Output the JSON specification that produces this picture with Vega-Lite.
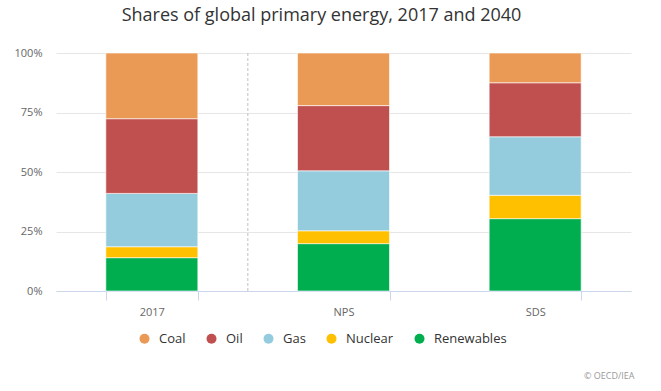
{
  "$schema": "https://vega.github.io/schema/vega-lite/v6.json",
  "autosize": {"type": "none"},
  "width": 575,
  "height": 238,
  "padding": {"left": 56, "top": 53, "right": 30, "bottom": 100},
  "background": "#ffffff",
  "title": {
    "text": "Shares of global primary energy, 2017 and 2040",
    "anchor": "middle",
    "frame": "group",
    "dx": -22,
    "offset": 22,
    "fontSize": 18,
    "font": "Open Sans",
    "fontWeight": "normal",
    "color": "#333333"
  },
  "config": {
    "view": {"stroke": null},
    "font": "Open Sans"
  },
  "layer": [
    {
      "data": {
        "values": [
          {"scenario": "2017", "fuel": "Renewables", "ord": 1, "share": 14.0},
          {"scenario": "2017", "fuel": "Nuclear", "ord": 2, "share": 4.6},
          {"scenario": "2017", "fuel": "Gas", "ord": 3, "share": 22.4},
          {"scenario": "2017", "fuel": "Oil", "ord": 4, "share": 31.4},
          {"scenario": "2017", "fuel": "Coal", "ord": 5, "share": 27.6},
          {"scenario": "NPS", "fuel": "Renewables", "ord": 1, "share": 19.9},
          {"scenario": "NPS", "fuel": "Nuclear", "ord": 2, "share": 5.4},
          {"scenario": "NPS", "fuel": "Gas", "ord": 3, "share": 25.2},
          {"scenario": "NPS", "fuel": "Oil", "ord": 4, "share": 27.4},
          {"scenario": "NPS", "fuel": "Coal", "ord": 5, "share": 22.1},
          {"scenario": "SDS", "fuel": "Renewables", "ord": 1, "share": 30.4},
          {"scenario": "SDS", "fuel": "Nuclear", "ord": 2, "share": 9.8},
          {"scenario": "SDS", "fuel": "Gas", "ord": 3, "share": 24.6},
          {"scenario": "SDS", "fuel": "Oil", "ord": 4, "share": 22.7},
          {"scenario": "SDS", "fuel": "Coal", "ord": 5, "share": 12.5}
        ]
      },
      "mark": {"type": "bar", "stroke": "#ffffff", "strokeWidth": 0.6},
      "encoding": {
        "x": {
          "field": "scenario",
          "type": "nominal",
          "sort": ["2017", "NPS", "SDS"],
          "scale": {"paddingInner": 0.52, "paddingOuter": 0.26},
          "axis": {
            "title": "© OECD/IEA",
            "titleFontSize": 9,
            "titleColor": "#999999",
            "titleFontWeight": "normal",
            "titleAnchor": "end",
            "titleAlign": "right",
            "titleBaseline": "alphabetic",
            "titleX": 578,
            "titleY": 87,
            "labelAngle": 0,
            "labelFontSize": 11,
            "labelColor": "#666666",
            "labelPadding": 6,
            "tickBand": "extent",
            "tickSize": 9,
            "tickColor": "#ccd6eb",
            "domainColor": "#ccd6eb",
            "grid": false
          }
        },
        "y": {
          "field": "share",
          "type": "quantitative",
          "stack": "normalize",
          "scale": {"domain": [0, 1]},
          "axis": {
            "title": null,
            "format": "%",
            "values": [0, 0.25, 0.5, 0.75, 1],
            "labelFontSize": 11,
            "labelColor": "#666666",
            "labelPadding": 14,
            "ticks": false,
            "domain": false,
            "gridColor": "#e6e6e6",
            "gridWidth": 1
          }
        },
        "color": {
          "field": "fuel",
          "type": "nominal",
          "scale": {
            "domain": ["Coal", "Oil", "Gas", "Nuclear", "Renewables"],
            "range": ["#eb9a56", "#c0504f", "#94ccdd", "#ffc000", "#00ae50"]
          },
          "legend": {
            "title": null,
            "orient": "none",
            "direction": "horizontal",
            "legendX": 82,
            "legendY": 279,
            "symbolType": "circle",
            "symbolSize": 100,
            "symbolStrokeWidth": 0,
            "labelFontSize": 13,
            "labelColor": "#333333",
            "labelOffset": 8,
            "columnPadding": 19
          }
        },
        "order": {"field": "ord", "type": "quantitative"}
      }
    },
    {
      "data": {"values": [{"scenario": "2017", "lo": 0, "hi": 1}]},
      "mark": {"type": "rule", "color": "#c0c0c0", "strokeDash": [3, 2], "strokeWidth": 1, "xOffset": 96},
      "encoding": {
        "x": {"field": "scenario", "type": "nominal", "sort": ["2017", "NPS", "SDS"]},
        "y": {"field": "lo", "type": "quantitative"},
        "y2": {"field": "hi"}
      }
    }
  ]
}
